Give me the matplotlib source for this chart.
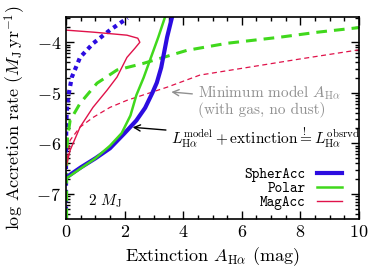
import numpy as np
import matplotlib
matplotlib.use("Agg")
import matplotlib.pyplot as plt
from matplotlib.lines import Line2D

plt.rcParams['font.family'] = ['cmr10', 'DejaVu Serif']
plt.rcParams['mathtext.fontset'] = 'cm'
plt.rcParams['axes.formatter.use_mathtext'] = True
plt.rcParams['axes.unicode_minus'] = True

BLUE = '#2c0ce0'
GREEN = '#40d81c'
RED = '#e0124a'

# solid curves: L_model + extinction = L_obs
spher_x = [0.0, 0.5, 1.0, 1.5, 2.0, 2.4, 2.7, 2.95, 3.1, 3.25, 3.35, 3.45, 3.62]
spher_y = [-6.68, -6.48, -6.3, -6.1, -5.8, -5.55, -5.3, -5.0, -4.8, -4.5, -4.2, -3.9, -3.5]
polar_x = [0.0, 0.5, 1.0, 1.5, 1.9, 2.2, 2.4, 2.65, 2.9, 3.15, 3.38]
polar_y = [-6.7, -6.5, -6.3, -6.05, -5.8, -5.45, -5.05, -4.7, -4.3, -3.9, -3.5]
mag_x = [0.0, 0.14, 0.48, 0.92, 1.4, 1.74, 2.08, 2.35, 2.52, 2.45, 2.08, 0.93, 0.0]
mag_y = [-6.47, -6.14, -5.68, -5.29, -4.95, -4.69, -4.3, -4.12, -4.0, -3.92, -3.86, -3.8, -3.76]

# minimum model extinction (with gas, no dust)
spher_min_x = [0.0, 0.0, 0.02, 0.07, 0.2, 0.48, 0.93, 1.5, 2.1]
spher_min_y = [-7.5, -6.0, -5.4, -5.09, -4.69, -4.3, -4.02, -3.76, -3.52]
polar_min_x = [0.02, 0.02, 0.05, 0.14, 0.48, 1.06, 1.74, 2.63, 4.13, 5.5, 7.3, 8.6, 10.0]
polar_min_y = [-7.5, -6.5, -5.9, -5.55, -5.21, -4.81, -4.55, -4.42, -4.16, -4.02, -3.9, -3.8, -3.71]
mag_min_x = [0.05, 0.14, 0.48, 0.92, 1.5, 2.08, 3.45, 4.57, 6.18, 8.0, 10.0]
mag_min_y = [-6.3, -5.94, -5.68, -5.49, -5.29, -5.15, -4.89, -4.65, -4.5, -4.33, -4.15]

XTICKS = [0, 2, 4, 6, 8, 10]
YTICKS = [-7, -6, -5, -4]


def main():
    fig = plt.figure(figsize=(3.91, 2.79), dpi=100)
    ax = fig.add_axes([66 / 391, 1 - 219 / 279, 293 / 391, 202 / 279])

    ax.plot(spher_min_x, spher_min_y, color=BLUE, lw=3.0, ls=(0, (1.0, 1.0)))
    ax.plot(polar_min_x, polar_min_y, color=GREEN, lw=2.2, ls=(0, (3.5, 2.3)))
    ax.plot(mag_min_x, mag_min_y, color=RED, lw=0.9, ls=(0, (4.0, 2.8)))
    ax.plot(mag_x, mag_y, color=RED, lw=1.0)
    ax.plot(spher_x, spher_y, color=BLUE, lw=3.0)
    ax.plot(polar_x, polar_y, color=GREEN, lw=1.8)

    ax.set_xlim(0, 10)
    ax.set_ylim(-7.5, -3.5)
    ax.set_xticks(XTICKS)
    ax.set_xticks(np.arange(0, 10.01, 0.5), minor=True)
    ax.set_yticks(YTICKS)
    minor_y = [d + np.log10(k) for d in range(-8, -3) for k in range(2, 10)]
    ax.set_yticks([m for m in minor_y if -7.5 <= m <= -3.5], minor=True)
    ax.tick_params(which='both', direction='in', top=True, right=True,
                   labelsize=13, width=1.0)
    ax.tick_params(which='major', length=6)
    ax.tick_params(which='minor', length=3)
    for s in ax.spines.values():
        s.set_linewidth(1.2)

    ax.set_xlabel(r'Extinction $A_{\rm H\alpha}$ (mag)', fontsize=13, labelpad=4)
    ax.set_ylabel(r'log Accretion rate ($M_{\rm J}\,{\rm yr}^{-1}$)',
                  fontsize=13, labelpad=6)

    ax.annotate('Minimum model $A_{\\rm H\\alpha}$\n(with gas, no dust)',
                xy=(3.5, -4.98), xytext=(4.5, -5.16), color='#909090',
                fontsize=11, va='center', ha='left', linespacing=1.0,
                arrowprops=dict(arrowstyle='->', color='#909090', lw=1.0))
    ax.annotate(r'$L_{\rm H\alpha}^{\rm model}+{\rm extinction}'
                r'\overset{!}{=}L_{\rm H\alpha}^{\rm obsrvd}$',
                xy=(2.18, -5.68), xytext=(3.6, -5.9), color='black',
                fontsize=11.1, va='center', ha='left',
                arrowprops=dict(arrowstyle='->', color='black', lw=1.0))
    ax.text(0.75, -7.14, r'2 $M_{\rm J}$', fontsize=11, va='center')

    handles = [Line2D([], [], color=BLUE, lw=3.0),
               Line2D([], [], color=GREEN, lw=1.8),
               Line2D([], [], color=RED, lw=1.0)]
    ax.legend(handles, ['SpherAcc', 'Polar', 'MagAcc'], loc='lower right',
              bbox_to_anchor=(0.962, 0.015), markerfirst=False, frameon=False,
              handlelength=1.7, handletextpad=0.8, labelspacing=0.0,
              borderaxespad=0.0, prop={'family': 'cmtt10', 'size': 10.5})

    fig.savefig('out.png', dpi=100)


if __name__ == "__main__":
    main()
